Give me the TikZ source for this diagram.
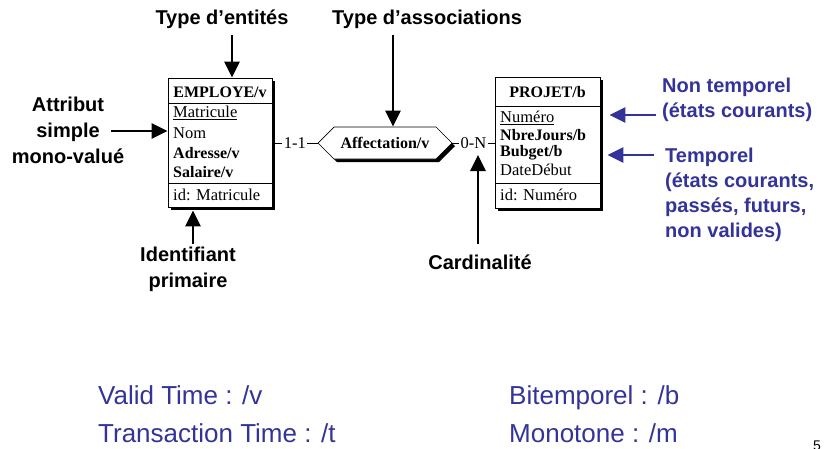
\documentclass[tikz,border=0pt]{standalone}
\usepackage{fontspec}
\setmainfont{Liberation Serif}
\newfontfamily\arial{Liberation Sans}
\usetikzlibrary{arrows.meta,shapes.symbols,shadows}
\definecolor{navy}{RGB}{51,51,153}

\begin{document}
\begin{tikzpicture}[x=1pt,y=-1pt,
  boxshadow/.style={drop shadow={shadow xshift=3pt,shadow yshift=-3pt,fill=black,opacity=1}},
  entity/.style={draw,line width=0.7pt,fill=white,boxshadow,inner sep=0pt},
  field/.style={font=\fontsize{16.5}{16.5}\selectfont,anchor=west,inner sep=0pt},
  keyfield/.style={field,font=\bfseries\fontsize{16}{16}\selectfont},
  title/.style={font=\bfseries\fontsize{16}{16}\selectfont,inner sep=0pt},
  card/.style={font=\fontsize{16.5}{16.5}\selectfont,fill=white,inner sep=1.5pt},
  label/.style={font=\arial\bfseries\fontsize{20}{26}\selectfont,align=center,inner sep=0pt},
  bluelabel/.style={font=\arial\bfseries\fontsize{20}{25}\selectfont,align=left,anchor=west,text=navy,inner sep=0pt},
  legend/.style={font=\arial\fontsize{26}{26}\selectfont,anchor=base west,text=navy,inner sep=0pt},
  bigarrow/.style={line width=2.8pt,-{Triangle[length=16pt,width=15pt]}},
  bluearrow/.style={draw=navy,line width=2.8pt,-{Triangle[length=16pt,width=15pt]},navy},
  sep/.style={line width=0.7pt}]

\useasboundingbox (0,0) rectangle (825,448);

% entity type EMPLOYE
\node[entity,minimum width=104pt,minimum height=129pt] (emp) at (220,142.5) {};
\node[title] (empt) at (220,92) {EMPLOYE/v};
\draw[sep] (emp.west |- 0,103) -- (emp.east |- 0,103);
\node[field] (e1) at (173,113) {\underline{Matricule}};
\node[field] (e2) at (173,133) {Nom};
\node[keyfield] (e3) at (173,153) {Adresse/v};
\node[keyfield] (e4) at (173,172) {Salaire/v};
\draw[sep] (emp.west |- 0,183) -- (emp.east |- 0,183);
\node[field] (e5) at (173,195) {id: Matricule};

% entity type PROJET
\node[entity,minimum width=105pt,minimum height=131pt] (proj) at (547.5,142.5) {};
\node[title] (projt) at (547.5,92) {PROJET/b};
\draw[sep] (proj.west |- 0,106) -- (proj.east |- 0,106);
\node[field] (p1) at (500,118) {\underline{Numéro}};
\node[keyfield] (p2) at (500,135.5) {NbreJours/b};
\node[keyfield] (p3) at (500,153) {Bubget/b};
\node[field] (p4) at (500,170) {DateDébut};
\draw[sep] (proj.west |- 0,183) -- (proj.east |- 0,183);
\node[field] (p5) at (500,195) {id: Numéro};

% relationship type
\node[draw,line width=0.7pt,fill=white,boxshadow,signal,signal to=east and west,
      signal pointer angle=90,minimum width=134pt,minimum height=32pt,inner sep=0pt,
      font=\bfseries\fontsize{16}{16}\selectfont] (aff) at (385,143) {Affectation/v};

% roles with cardinalities
\draw[line width=0.6pt] (emp.east |- aff.west) -- node[card] (c1) {1-1} (aff.west);
\draw[line width=0.6pt] (aff.east) -- node[card] (c2) {0-N} (proj.west |- aff.east);

% black annotations
\node[label] (lent) at (222,19) {Type d’entités};
\coordinate (lentt) at (232,35);
\draw[bigarrow] (lentt) -- (lentt |- emp.north);

\node[label,anchor=west] (lass) at (332,19) {Type d’associations};
\coordinate (lasst) at (393,35);
\draw[bigarrow] (lasst) -- (lasst |- aff.north);

\node[label] (lattr) at (68,130) {Attribut\\simple\\mono-valué};
\coordinate (attrt) at (111,131);
\draw[bigarrow] (attrt) -- (attrt -| emp.west);

\node[label] (lid) at (188,269) {Identifiant\\primaire};
\coordinate (idt) at (193,244);
\draw[bigarrow] (idt) -- ([yshift=-3pt]idt |- emp.south);

\node[label] (lcard) at (480,262) {Cardinalité};
\coordinate (cardt) at (478,244);
\draw[bigarrow] (cardt) -- ([yshift=-12pt]cardt |- aff.east);

% blue annotations
\node[bluelabel] (lnt) at (662,100) {Non temporel\\(états courants)};
\coordinate (ntt) at (656,115);
\draw[bluearrow,shorten >=9pt] (ntt) -- (ntt -| proj.east);

\node[bluelabel] (lt) at (665,195) {Temporel\\(états courants,\\passés, futurs,\\non valides)};
\coordinate (tt) at (654,155);
\draw[bluearrow,shorten >=7pt] (tt) -- (tt -| proj.east);

% legend of temporal suffixes
\node[legend] (vt) at (98,404) {Valid Time : /v};
\node[legend] (tr) at (98,442) {Transaction Time : /t};
\node[legend] (bt) at (509,404) {Bitemporel : /b};
\node[legend] (mo) at (509,442) {Monotone : /m};

% page number, partly below the lower edge
\node[font=\arial\fontsize{14}{14}\selectfont,anchor=north west,inner sep=0pt] (pg) at (813,441) {5};
\end{tikzpicture}
\end{document}
